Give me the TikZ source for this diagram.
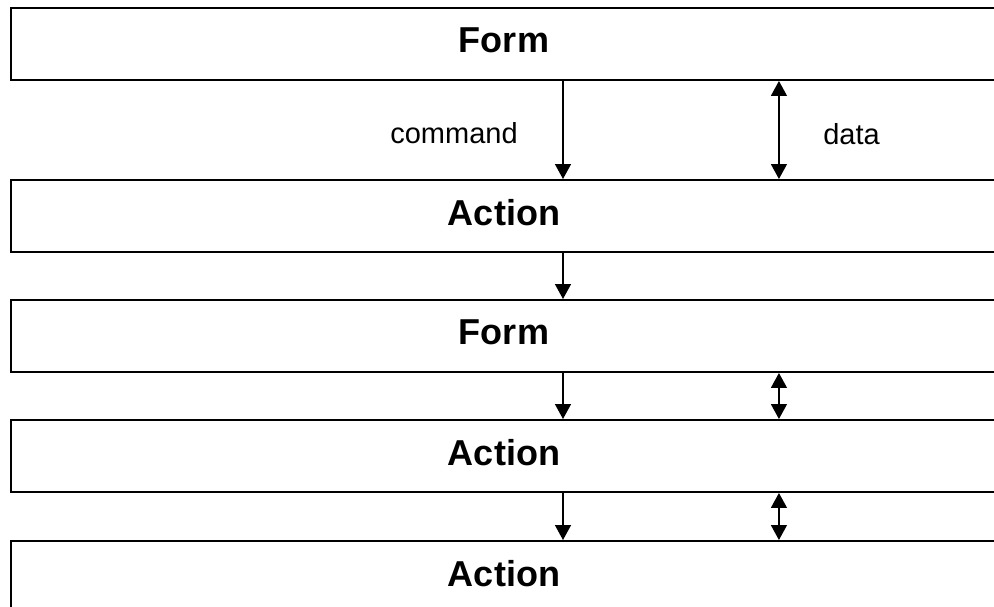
\documentclass[tikz,border=0pt]{standalone}
\usepackage{fontspec}
\setmainfont{Liberation Sans}
\usetikzlibrary{arrows.meta}

\begin{document}
\begin{tikzpicture}[x=0.02cm, y=-0.02cm,
  blk/.style={rectangle, draw, line width=0.04cm, minimum width=19.72cm, minimum height=1.44cm, text depth=0.16cm, inner sep=0pt, font=\bfseries\fontsize{20.5}{24}\selectfont},
  lbl/.style={inner sep=0pt, font=\fontsize{16.5}{20}\selectfont},
  cmd/.style={line width=0.03cm, -{Triangle[width=0.32cm,length=0.3cm]}},
  dat/.style={line width=0.03cm, {Triangle[width=0.32cm,length=0.3cm]}-{Triangle[width=0.32cm,length=0.3cm]}}]
  \useasboundingbox (0,0) rectangle (994,607);

  \node[blk] (f1) at (504,44) {Form};
  \node[blk] (a1) at (504,216) {Action};
  \node[blk] (f2) at (504,336) {Form};
  \node[blk] (a2) at (504,456) {Action};
  \node[blk] (a3) at (504,577) {Action};

  \node[lbl, anchor=base east] (cl) at (518,144) {command};
  \node[lbl, anchor=base west] (dl) at (823,145) {data};

  % command goes down, data both ways
  \draw [cmd] ([xshift=1.18cm]f1.south) -- ([xshift=1.18cm]a1.north);
  \draw [dat] ([xshift=5.5cm]f1.south) -- ([xshift=5.5cm]a1.north);

  \draw [cmd] ([xshift=1.18cm]a1.south) -- ([xshift=1.18cm]f2.north);

  \draw [cmd] ([xshift=1.18cm]f2.south) -- ([xshift=1.18cm]a2.north);
  \draw [dat] ([xshift=5.5cm]f2.south) -- ([xshift=5.5cm]a2.north);

  \draw [cmd] ([xshift=1.18cm]a2.south) -- ([xshift=1.18cm]a3.north);
  \draw [dat] ([xshift=5.5cm]a2.south) -- ([xshift=5.5cm]a3.north);
\end{tikzpicture}
\end{document}
